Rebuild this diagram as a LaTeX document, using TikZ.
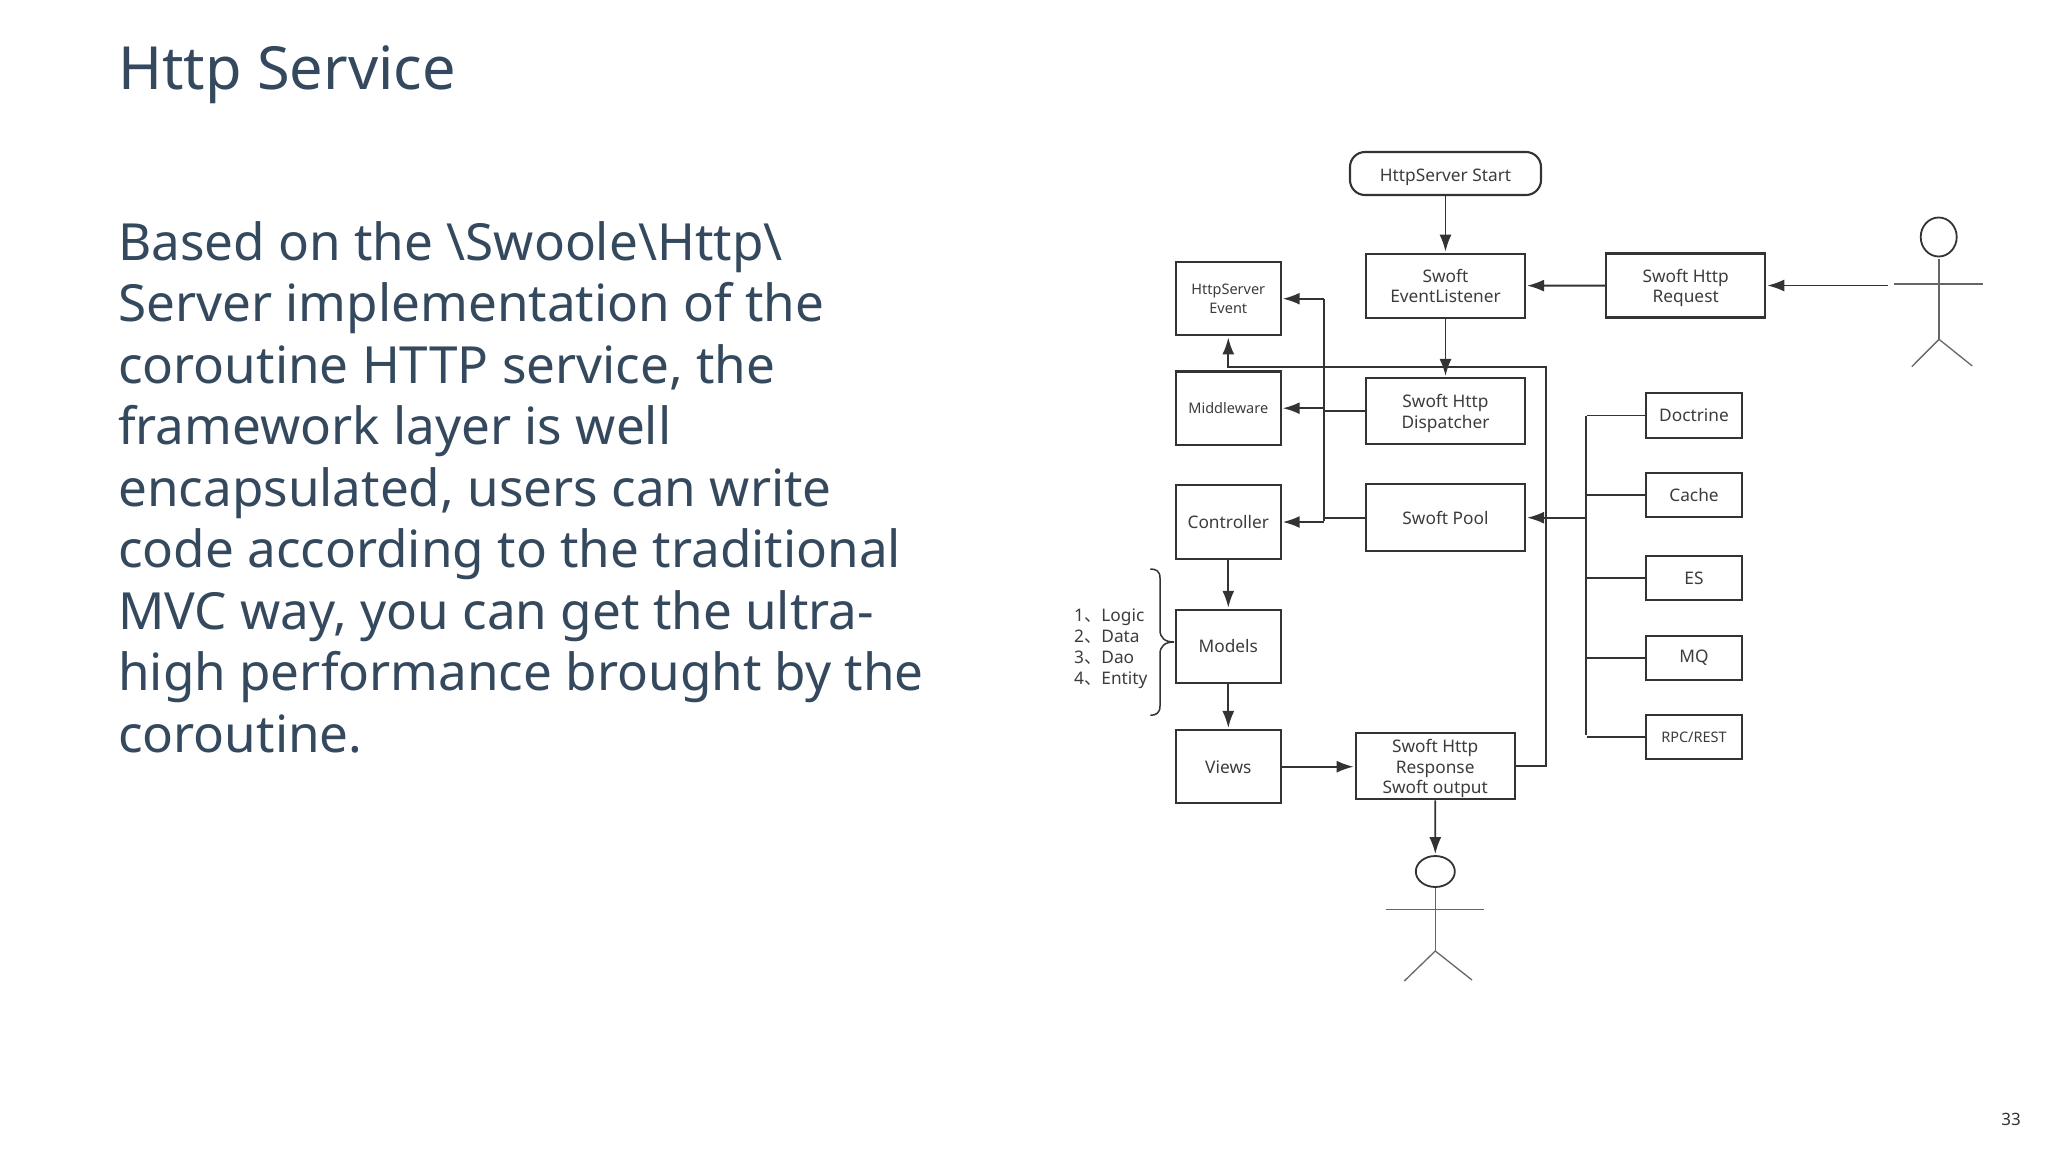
\documentclass[tikz,border=0pt]{standalone}
\usepackage{fontspec}
\setmainfont{Noto Sans}
\newfontfamily\cjk{Noto Sans CJK SC}
\usepackage{tikz}
\usetikzlibrary{arrows.meta,shapes}
\tikzset{>={Latex[width=12pt,length=17pt]}}
\definecolor{slate}{HTML}{34495E}
\definecolor{ink}{HTML}{333333}
\definecolor{inktext}{HTML}{3C3C3C}
\newcommand\Dn[1]{\rule{0pt}{#1pt}}
\tikzset{
  flowbox/.style={draw=ink, line width=2.1pt, inner sep=0pt, align=center,
    text=inktext, font=\fontsize{17.3}{20.7}\selectfont},
  smallbox/.style={flowbox, minimum width=104.7pt, minimum height=73.4pt},
  widebox/.style={flowbox, minimum width=159pt},
  sidebox/.style={flowbox, minimum width=96.6pt, minimum height=44.2pt},
  flow/.style={draw=ink, line width=1.9pt, shorten >=1pt},
  limb/.style={draw=ink!75, line width=1.3pt},
}

\begin{document}
\begin{tikzpicture}[x=1pt,y=-1pt]
  \useasboundingbox (0,0) rectangle (2048,1152);

  \node[anchor=base west, inner sep=0pt, text=slate, font=\fontsize{59.5}{70}\selectfont]
  (title) at (118,89) {Http Service};
  \node[anchor=north west, inner sep=0pt, text=slate, align=left,
  font=\fontsize{51.2}{61.5}\selectfont] (body) at (118,221)
  {Based on the \textbackslash Swoole\textbackslash Http\textbackslash\\
    Server implementation of the\\
    coroutine HTTP service, the\\
    framework layer is well\\
    encapsulated, users can write\\
    code according to the traditional\\
    MVC way, you can get the ultra-\\
    high performance brought by the\\
    coroutine.};
  \node[text=ink, inner sep=0pt, font=\fontsize{17}{20}\selectfont] (page) at (2011,1119) {33};

  %% middle column
  \node[flowbox, rounded corners=15pt, minimum width=191pt, minimum height=43pt]
  (start) at (1445.5,173.5) {\Dn{21}HttpServer Start};
  \node[widebox, minimum height=64pt] (listener) at (1445.5,285.7) {\Dn{14}Swoft\\EventListener};
  \node[widebox, minimum height=66pt] (dispatcher) at (1445.5,411) {\Dn{18}Swoft Http\\Dispatcher};
  \node[widebox, minimum height=66.7pt] (pool) at (1445.5,517.7) {Swoft Pool};
  \node[widebox, minimum height=66pt] (response) at (1435.2,766.3)
  {\Dn{18}Swoft Http\\Response\\Swoft output};
  \node[widebox, minimum height=64pt] (request) at (1685.7,285.5) {\Dn{18}Swoft Http\\Request};

  %% left column
  \node[smallbox, font=\fontsize{14.5}{18.7}\selectfont] (event) at (1228.3,298.7) {HttpServer\\Event};
  \node[smallbox, font=\fontsize{14.5}{18.7}\selectfont] (middleware) at (1228.3,408.2) {Middleware};
  \node[smallbox] (controller) at (1228.3,522) {Controller};
  \node[smallbox] (models) at (1228.3,646.5) {Models};
  \node[smallbox] (views) at (1228.3,766.7) {Views};

  %% right column
  \node[sidebox] (doctrine) at (1694,415.5) {Doctrine};
  \node[sidebox] (cache) at (1694,494.8) {Cache};
  \node[sidebox] (es) at (1694,578.3) {ES};
  \node[sidebox] (mq) at (1694,657.8) {MQ};
  \node[sidebox, font=\fontsize{14.5}{18}\selectfont] (rpc) at (1694,737.3) {RPC/REST};

  \node[anchor=west, inner sep=0pt, align=left, text=inktext,
  font=\fontsize{17.3}{20.8}\selectfont] (layers) at (1074,648.8)
  {1{\cjk 、}Logic\\2{\cjk 、}Data\\3{\cjk 、}Dao\\4{\cjk 、}Entity};

  \coordinate (busleft) at (1324,298.7);
  \coordinate (busleftend) at (1324,522);
  \coordinate (busright) at (1585.7,415.7);
  \coordinate (busrightend) at (1585.7,736.3);
  \coordinate (backturn) at (1545.7,367);
  \coordinate (bracetop) at (1150.3,569);
  \coordinate (bracetip) at (1174,642);
  \coordinate (bracebot) at (1150.3,715.3);

  \draw[flow,->] (start) -- (listener);
  \draw[flow,->] (listener) -- (dispatcher);
  \draw[flow,->] (request) -- (listener);
  \draw[flow,->] (controller) -- (models);
  \draw[flow,->] (models) -- (views);
  \draw[flow,->] (views) -- (response.west |- views);

  \draw[flow] (busleft) -- (busleftend);
  \draw[flow,->] (busleft) -- (event.east);
  \draw[flow] (dispatcher.west) -- (dispatcher.west -| busleft);
  \draw[flow,->] (middleware.east -| busleft) -- (middleware.east);
  \draw[flow] (pool.west) -- (pool.west -| busleft);
  \draw[flow,->] (busleftend) -- (controller.east);

  \draw[flow,->] (response.east) -| (backturn) -| (event.south); %% back to the event box

  \draw[flow] (busright) -- (busrightend);
  \draw[flow] (doctrine.west) -- (doctrine.west -| busright);
  \draw[flow] (cache.west) -- (cache.west -| busright);
  \draw[flow] (es.west) -- (es.west -| busright);
  \draw[flow] (mq.west) -- (mq.west -| busright);
  \draw[flow] (rpc.west) -- (rpc.west -| busright);
  \draw[flow,->] (pool.east -| busright) -- (pool.east);

  \draw[draw=ink, line width=1.5pt]
  (bracetop) .. controls (1156,569) and (1160,571) .. (1160,578)
  -- (1160,630) .. controls (1160,638) and (1165,642) .. (bracetip)
  .. controls (1165,642) and (1160,646) .. (1160,654)
  -- (1160,706) .. controls (1160,713) and (1156,715.3) .. (bracebot);

  %% actor on the right
  \node[draw=ink, line width=1.8pt, ellipse, inner sep=0pt, minimum width=36pt,
  minimum height=39pt] (headin) at (1938.7,237) {};
  \coordinate (hipin) at (1939,339.3);
  \coordinate (handin) at (1887.7,285.5);
  \draw[limb] (1939,259.3) -- (hipin);
  \draw[limb] (1894.3,284) -- (1983.3,284);
  \draw[limb] (1911.7,366.7) -- (hipin) -- (1972.3,366);
  \draw[flow,->] (handin) -- (request.east);

  %% actor below
  \node[draw=ink, line width=1.8pt, ellipse, inner sep=0pt, minimum width=39pt,
  minimum height=31pt] (headout) at (1435.3,871.5) {};
  \coordinate (hipout) at (1435.3,951);
  \draw[limb] (headout.south) -- (hipout);
  \draw[limb] (1386,909.3) -- (1484,909.3);
  \draw[limb] (1404.3,981) -- (hipout) -- (1472,980);
  \draw[flow,->] (response.south) -- (headout.north);

\end{tikzpicture}
\end{document}
